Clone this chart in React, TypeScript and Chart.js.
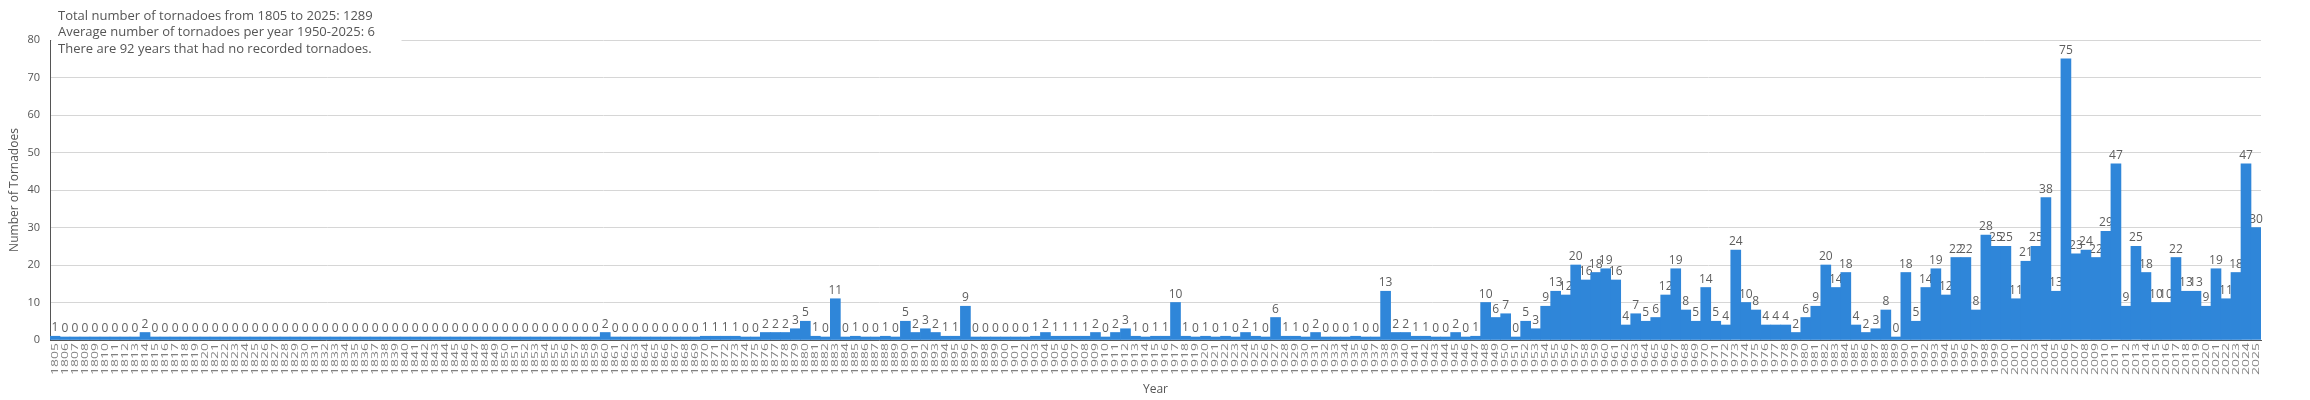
import React, { useEffect, useRef } from 'react';
import { Chart, registerables } from 'chart.js';

Chart.register(...registerables);

const FIRST_YEAR = 1805;
const LAST_YEAR = 2025;

// Category labels: every year from 1805 to 2025
const years: string[] = Array.from({ length: LAST_YEAR - FIRST_YEAR + 1 }, (_, i) => String(FIRST_YEAR + i));

// Number of tornadoes per year, one line per decade
const tornadoCounts: number[] = [
  1, 0, 0, 0, 0, // 1805-1809
  0, 0, 0, 0, 2, 0, 0, 0, 0, 0, // 1810s
  0, 0, 0, 0, 0, 0, 0, 0, 0, 0, // 1820s
  0, 0, 0, 0, 0, 0, 0, 0, 0, 0, // 1830s
  0, 0, 0, 0, 0, 0, 0, 0, 0, 0, // 1840s
  0, 0, 0, 0, 0, 0, 0, 0, 0, 0, // 1850s
  2, 0, 0, 0, 0, 0, 0, 0, 0, 0, // 1860s
  1, 1, 1, 1, 0, 0, 2, 2, 2, 3, // 1870s
  5, 1, 0, 11, 0, 1, 0, 0, 1, 0, // 1880s
  5, 2, 3, 2, 1, 1, 9, 0, 0, 0, // 1890s
  0, 0, 0, 1, 2, 1, 1, 1, 1, 2, // 1900s
  0, 2, 3, 1, 0, 1, 1, 10, 1, 0, // 1910s
  1, 0, 1, 0, 2, 1, 0, 6, 1, 1, // 1920s
  0, 2, 0, 0, 0, 1, 0, 0, 13, 2, // 1930s
  2, 1, 1, 0, 0, 2, 0, 1, 10, 6, // 1940s
  7, 0, 5, 3, 9, 13, 12, 20, 16, 18, // 1950s
  19, 16, 4, 7, 5, 6, 12, 19, 8, 5, // 1960s
  14, 5, 4, 24, 10, 8, 4, 4, 4, 2, // 1970s
  6, 9, 20, 14, 18, 4, 2, 3, 8, 0, // 1980s
  18, 5, 14, 19, 12, 22, 22, 8, 28, 25, // 1990s
  25, 11, 21, 25, 38, 13, 75, 23, 24, 22, // 2000s
  29, 47, 9, 25, 18, 10, 10, 22, 13, 13, // 2010s
  9, 19, 11, 18, 47, 30, // 2020-2025
];

const infoLines: string[] = [
  'Total number of tornadoes from 1805 to 2025: 1289',
  'Average number of tornadoes per year 1950-2025: 6',
  'There are 92 years that had no recorded tornadoes.',
];

const Y_MIN = 0;
const Y_MAX = 80;
const Y_STEP = 10;

const BAR_COLOR = '#2f86d9';
const TEXT_COLOR = '#555555';
const FONT = '"Open Sans", "Noto Sans", sans-serif';

const valueLabelPlugin = {
  id: 'valueLabels',
  beforeDatasetsDraw(chart: any) {
    const ctx = chart.ctx;
    const meta = chart.getDatasetMeta(0);
    const data = chart.data.datasets[0].data as number[];
    ctx.save();
    ctx.font = `12px ${FONT}`;
    ctx.fillStyle = '#5e5e5e';
    ctx.textAlign = 'center';
    ctx.textBaseline = 'alphabetic';
    meta.data.forEach((el: any, i: number) => {
      ctx.fillText(String(data[i]), el.x, el.y - 5);
    });
    ctx.restore();
  },
};

const xLabelPlugin = {
  id: 'stretchedXLabels',
  afterDraw(chart: any) {
    const ctx = chart.ctx;
    const xs = chart.scales.x;
    const labels = chart.data.labels as string[];
    ctx.save();
    ctx.font = `9px ${FONT}`;
    ctx.fillStyle = '#808080';
    ctx.textAlign = 'right';
    ctx.textBaseline = 'middle';
    labels.forEach((lab, i) => {
      const x = xs.getPixelForValue(i);
      ctx.save();
      ctx.translate(x, xs.top + 3);
      ctx.rotate(-Math.PI / 2);
      ctx.scale(1.55, 1);
      ctx.fillText(lab, 0, 0);
      ctx.restore();
    });
    ctx.restore();
  },
};

const infoBoxPlugin = {
  id: 'infoBox',
  afterDraw(chart: any) {
    const ctx = chart.ctx;
    const area = chart.chartArea;
    ctx.save();
    ctx.fillStyle = '#ffffff';
    ctx.fillRect(area.left + 1.5, 0, 350, 57);
    ctx.font = `13px ${FONT}`;
    ctx.fillStyle = TEXT_COLOR;
    ctx.textAlign = 'left';
    ctx.textBaseline = 'alphabetic';
    infoLines.forEach((line, i) => {
      ctx.fillText(line, area.left + 8, 19.5 + i * 16.7);
    });
    ctx.restore();
  },
};

export default function App() {
  const canvasRef = useRef<HTMLCanvasElement | null>(null);

  useEffect(() => {
    if (!canvasRef.current) return;
    const chart = new Chart(canvasRef.current, {
      type: 'bar',
      data: {
        labels: years,
        datasets: [
          {
            label: 'Tornadoes',
            data: tornadoCounts,
            backgroundColor: BAR_COLOR,
            borderWidth: 0,
            barPercentage: 1,
            categoryPercentage: 1,
            minBarLength: 3,
          },
        ],
      },
      options: {
        responsive: false,
        animation: false,
        layout: { padding: { top: 40, right: 49, bottom: 0, left: 0 } },
        plugins: {
          legend: { display: false },
          tooltip: { enabled: false },
          title: { display: false },
        },
        scales: {
          x: {
            grid: { display: false, drawTicks: false },
            border: { display: true, color: '#555555', width: 1 },
            ticks: { display: false },
            title: {
              display: true,
              text: 'Year',
              color: TEXT_COLOR,
              font: { family: FONT, size: 12 },
              padding: { top: 0, bottom: 3 },
            },
            afterFit: (s: any) => {
              s.height = 60;
            },
          },
          y: {
            min: Y_MIN,
            max: Y_MAX,
            ticks: {
              stepSize: Y_STEP,
              padding: 10,
              color: TEXT_COLOR,
              font: { family: FONT, size: 11 },
            },
            grid: { color: '#d6d6d6', drawTicks: false },
            border: { display: true, color: '#555555', width: 1 },
            title: {
              display: true,
              text: 'Number of Tornadoes',
              color: TEXT_COLOR,
              font: { family: FONT, size: 12 },
              padding: { top: 7, bottom: 0 },
            },
            afterFit: (s: any) => {
              s.width = 50;
            },
          },
        },
      },
      plugins: [valueLabelPlugin, xLabelPlugin, infoBoxPlugin],
    });
    return () => chart.destroy();
  }, []);

  return (
    <div style={{ position: 'fixed', left: 0, top: 0, width: 2310, height: 400, background: '#fff' }}>
      <canvas ref={canvasRef} width={2310} height={400} style={{ display: 'block' }} />
    </div>
  );
}
